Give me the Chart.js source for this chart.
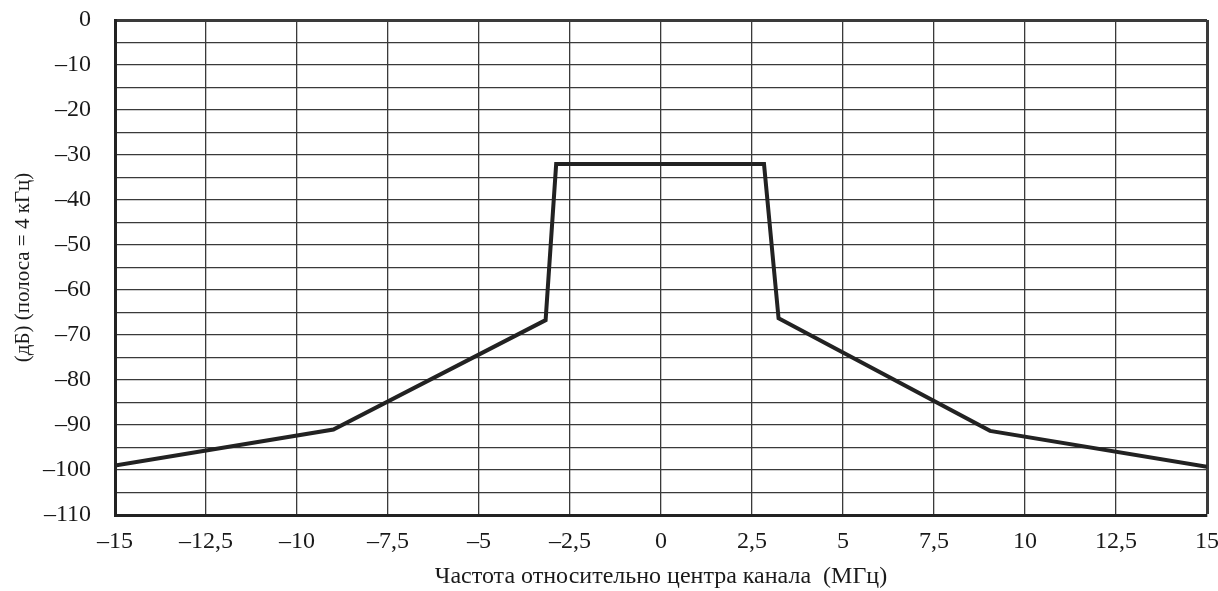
<!DOCTYPE html>
<html>
<head>
<meta charset="utf-8">
<script src="https://cdn.jsdelivr.net/npm/chart.js@4/dist/chart.umd.min.js"></script>
<style>
  html, body { margin: 0; padding: 0; background: #fff; }
</style>
</head>
<body>
<canvas id="maskChart" width="1218" height="591"></canvas>
<script>
// spectrum mask points
const freqMHz = [-15, -9, -3.17, -2.88, 2.83, 3.23, 9.04, 15];
const levelDb = [-99, -91, -66.7, -32, -32, -66.3, -91.3, -99.3];

const xTitle = 'Частота относительно центра канала  (МГц)';
const yTitle = '(дБ) (полоса = 4 кГц)';

const points = freqMHz.map((f, i) => ({ x: f, y: levelDb[i] }));

// comma decimals and dash minus, like the original
function fmt(v) {
    return String(v).replace('.', ',').replace('-', '\u2013');
}

const tickFont = { family: 'Liberation Serif', size: 24 };

const ctx = document.getElementById('maskChart').getContext('2d');
new Chart(ctx, {
    type: 'line',
    data: {
        datasets: [
            {
                data: points,
                borderColor: '#222',
                borderWidth: 4,
                pointRadius: 0,
                fill: false,
                tension: 0
            }
        ]
    },
    options: {
        responsive: false,
        animation: false,
        layout: { padding: 0 },
        plugins: {
            legend: { display: false },
            tooltip: { enabled: false }
        },
        scales: {
            x: {
                type: 'linear',
                min: -15,
                max: 15,
                afterFit: scale => {
                    scale.height = 76;
                    scale.paddingLeft = 0;
                    scale.paddingRight = 11;
                },
                ticks: {
                    stepSize: 2.5,
                    padding: 12,
                    color: '#1a1a1a',
                    font: tickFont,
                    maxRotation: 0,
                    autoSkip: false,
                    callback: v => fmt(v)
                },
                grid: {
                    drawTicks: false,
                    color: '#3a3a3a',
                    lineWidth: c => (c.tick && c.tick.value === 15 ? 3 : 1.3)
                },
                border: { color: '#222', width: 3 },
                title: {
                    display: true,
                    text: xTitle,
                    color: '#1a1a1a',
                    font: { family: 'Liberation Serif', size: 24 },
                    padding: { top: 0, bottom: 0 }
                }
            },
            y: {
                min: -110,
                max: 0,
                afterFit: scale => {
                    scale.width = 115;
                    scale.paddingTop = 20;
                    scale.paddingBottom = 0;
                },
                ticks: {
                    stepSize: 5,
                    padding: 24,
                    color: '#1a1a1a',
                    font: tickFont,
                    autoSkip: false,
                    callback: v => (v % 10 === 0 ? fmt(v) : '')
                },
                grid: {
                    drawTicks: false,
                    color: '#3a3a3a',
                    lineWidth: c => (c.tick && c.tick.value === 0 ? 3 : 1.3)
                },
                border: { color: '#222', width: 3 },
                title: {
                    display: true,
                    text: yTitle,
                    color: '#1a1a1a',
                    font: { family: 'Liberation Serif', size: 21 },
                    padding: { top: 11, bottom: 0 }
                }
            }
        }
    }
});
</script>
</body>
</html>
